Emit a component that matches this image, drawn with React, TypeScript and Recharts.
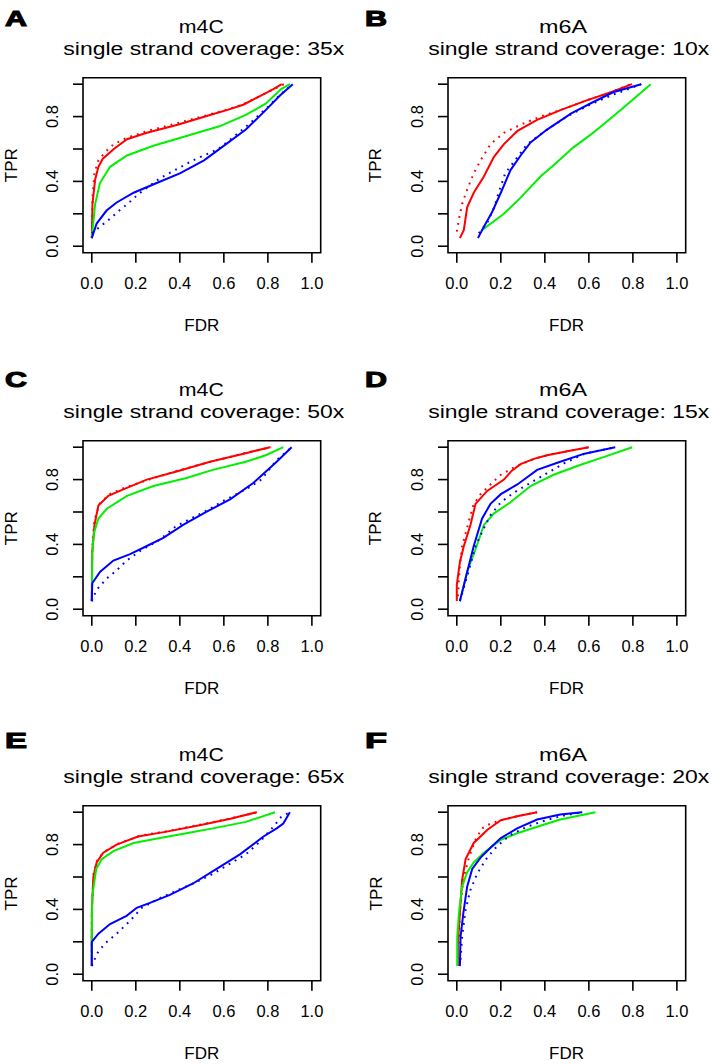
import React from 'react';
import { LineChart, Line, XAxis, YAxis, ReferenceArea } from 'recharts';

type Pt = [number, number];

// ---- labels ----
const panelLetters = ['A', 'B', 'C', 'D', 'E', 'F'];
const panelMods = ['m4C', 'm6A', 'm4C', 'm6A', 'm4C', 'm6A'];
const panelCoverage = ['35x', '10x', '50x', '15x', '65x', '20x'];
const xTicks = [0, 0.2, 0.4, 0.6, 0.8, 1.0];
const yTicks = [0, 0.2, 0.4, 0.6, 0.8, 1.0];
const yLabelled = [0, 0.4, 0.8];
const xLabel = 'FDR';
const yLabel = 'TPR';

// ---- data: [FDR, TPR] ----
const aRed: Pt[] = [[0, 0.05], [0.003, 0.26], [0.015, 0.41], [0.03, 0.49], [0.05, 0.54], [0.1, 0.6], [0.16, 0.66], [0.25, 0.7], [0.39, 0.75], [0.537, 0.81], [0.613, 0.84], [0.688, 0.873], [0.764, 0.926], [0.825, 0.97], [0.863, 1.0]];
const aRedDot: Pt[] = [[0, 0.05], [0.003, 0.3], [0.012, 0.45], [0.03, 0.53], [0.06, 0.58], [0.1, 0.63], [0.16, 0.67], [0.25, 0.71], [0.39, 0.76], [0.54, 0.815], [0.62, 0.845], [0.69, 0.878], [0.77, 0.93], [0.83, 0.972], [0.873, 1.0]];
const aGreen: Pt[] = [[0, 0.05], [0.015, 0.26], [0.037, 0.39], [0.083, 0.49], [0.16, 0.56], [0.28, 0.62], [0.43, 0.68], [0.58, 0.74], [0.7, 0.81], [0.79, 0.88], [0.86, 0.97], [0.9, 1.0]];
const aBlue: Pt[] = [[0, 0.05], [0.022, 0.14], [0.067, 0.22], [0.113, 0.27], [0.19, 0.33], [0.295, 0.39], [0.4, 0.45], [0.51, 0.53], [0.61, 0.63], [0.7, 0.72], [0.79, 0.84], [0.855, 0.93], [0.913, 1.0]];
const aBlueDot: Pt[] = [[0, 0.08], [0.037, 0.12], [0.083, 0.17], [0.125, 0.22], [0.17, 0.27], [0.21, 0.32], [0.31, 0.42], [0.46, 0.53], [0.575, 0.6], [0.64, 0.67], [0.72, 0.76], [0.8, 0.86], [0.86, 0.94], [0.913, 1.0]];

const bRed: Pt[] = [[0.014, 0.05], [0.032, 0.1], [0.047, 0.24], [0.077, 0.33], [0.123, 0.43], [0.168, 0.55], [0.214, 0.63], [0.274, 0.71], [0.365, 0.78], [0.471, 0.84], [0.59, 0.9], [0.7, 0.95], [0.796, 1.0]];
const bRedDot: Pt[] = [[0.0, 0.09], [0.01, 0.17], [0.024, 0.26], [0.047, 0.35], [0.077, 0.45], [0.108, 0.53], [0.153, 0.63], [0.214, 0.7], [0.29, 0.75], [0.38, 0.8], [0.47, 0.84], [0.59, 0.9], [0.7, 0.95], [0.79, 1.0]];
const bGreen: Pt[] = [[0.115, 0.1], [0.214, 0.2], [0.29, 0.3], [0.38, 0.43], [0.44, 0.5], [0.53, 0.61], [0.61, 0.69], [0.7, 0.79], [0.77, 0.87], [0.881, 1.0]];
const bBlue: Pt[] = [[0.096, 0.05], [0.123, 0.12], [0.16, 0.21], [0.2, 0.33], [0.244, 0.47], [0.29, 0.56], [0.335, 0.64], [0.41, 0.72], [0.52, 0.82], [0.62, 0.89], [0.71, 0.95], [0.838, 1.0]];
const bBlueDot: Pt[] = [[0.1, 0.08], [0.14, 0.15], [0.17, 0.24], [0.19, 0.33], [0.22, 0.45], [0.27, 0.54], [0.32, 0.63], [0.4, 0.71], [0.5, 0.8], [0.6, 0.87], [0.7, 0.93], [0.838, 1.0]];

const cRed: Pt[] = [[0, 0.05], [0.002, 0.35], [0.012, 0.52], [0.03, 0.64], [0.075, 0.7], [0.143, 0.74], [0.25, 0.8], [0.385, 0.85], [0.537, 0.91], [0.69, 0.96], [0.81, 1.0]];
const cRedDot: Pt[] = [[0, 0.05], [0.002, 0.38], [0.012, 0.55], [0.035, 0.65], [0.08, 0.71], [0.15, 0.75], [0.26, 0.8], [0.39, 0.855], [0.54, 0.91], [0.7, 0.965], [0.815, 1.0]];
const cGreen: Pt[] = [[0, 0.05], [0.002, 0.35], [0.01, 0.47], [0.03, 0.56], [0.068, 0.62], [0.16, 0.7], [0.28, 0.76], [0.43, 0.81], [0.55, 0.86], [0.7, 0.91], [0.79, 0.95], [0.87, 1.0]];
const cBlue: Pt[] = [[0, 0.05], [0.002, 0.16], [0.037, 0.23], [0.098, 0.3], [0.174, 0.34], [0.25, 0.39], [0.325, 0.44], [0.415, 0.52], [0.52, 0.6], [0.63, 0.68], [0.735, 0.78], [0.84, 0.91], [0.908, 1.0]];
const cBlueDot: Pt[] = [[0, 0.05], [0.022, 0.12], [0.068, 0.19], [0.113, 0.24], [0.158, 0.3], [0.22, 0.36], [0.31, 0.43], [0.38, 0.51], [0.537, 0.62], [0.6, 0.67], [0.7, 0.74], [0.77, 0.8], [0.84, 0.92], [0.908, 1.0]];

const dRed: Pt[] = [[0, 0.05], [0, 0.15], [0.014, 0.29], [0.032, 0.39], [0.062, 0.52], [0.085, 0.65], [0.138, 0.73], [0.214, 0.8], [0.25, 0.855], [0.29, 0.895], [0.35, 0.928], [0.41, 0.95], [0.52, 0.98], [0.6, 1.0]];
const dRedDot: Pt[] = [[0.005, 0.08], [0.014, 0.27], [0.024, 0.39], [0.04, 0.47], [0.062, 0.58], [0.077, 0.65], [0.108, 0.71], [0.153, 0.77], [0.2, 0.83], [0.26, 0.875], [0.3, 0.9], [0.36, 0.932], [0.41, 0.95], [0.52, 0.98], [0.6, 1.0]];
const dGreen: Pt[] = [[0.014, 0.05], [0.047, 0.23], [0.085, 0.37], [0.123, 0.52], [0.168, 0.59], [0.244, 0.66], [0.335, 0.76], [0.44, 0.83], [0.56, 0.89], [0.67, 0.94], [0.797, 1.0]];
const dBlue: Pt[] = [[0.014, 0.05], [0.047, 0.23], [0.077, 0.39], [0.115, 0.56], [0.153, 0.65], [0.2, 0.71], [0.275, 0.77], [0.365, 0.86], [0.47, 0.91], [0.58, 0.96], [0.72, 1.0]];
const dBlueDot: Pt[] = [[0.014, 0.05], [0.055, 0.24], [0.085, 0.39], [0.123, 0.5], [0.153, 0.58], [0.2, 0.66], [0.26, 0.72], [0.335, 0.78], [0.41, 0.84], [0.487, 0.9], [0.58, 0.96], [0.72, 1.0]];

const eRed: Pt[] = [[0, 0.05], [0, 0.38], [0.007, 0.6], [0.022, 0.69], [0.052, 0.75], [0.113, 0.8], [0.21, 0.85], [0.34, 0.88], [0.49, 0.92], [0.63, 0.96], [0.75, 1.0]];
const eRedDot: Pt[] = [[0, 0.05], [0, 0.4], [0.008, 0.62], [0.024, 0.7], [0.055, 0.755], [0.12, 0.805], [0.22, 0.855], [0.35, 0.885], [0.5, 0.925], [0.64, 0.965], [0.755, 1.0]];
const eGreen: Pt[] = [[0, 0.05], [0, 0.23], [0.002, 0.48], [0.02, 0.65], [0.045, 0.71], [0.098, 0.76], [0.19, 0.81], [0.31, 0.84], [0.43, 0.87], [0.55, 0.9], [0.7, 0.94], [0.832, 1.0]];
const eBlue: Pt[] = [[0, 0.05], [0, 0.2], [0.03, 0.25], [0.083, 0.31], [0.158, 0.36], [0.204, 0.41], [0.264, 0.44], [0.355, 0.49], [0.46, 0.56], [0.567, 0.65], [0.673, 0.74], [0.78, 0.85], [0.84, 0.9], [0.87, 0.93], [0.9, 1.0]];
const eBlueDot: Pt[] = [[0, 0.05], [0.025, 0.13], [0.06, 0.19], [0.113, 0.25], [0.174, 0.33], [0.227, 0.41], [0.31, 0.47], [0.46, 0.56], [0.537, 0.61], [0.613, 0.67], [0.7, 0.74], [0.765, 0.82], [0.825, 0.91], [0.86, 0.97], [0.9, 1.0]];

const fRed: Pt[] = [[0.005, 0.05], [0.005, 0.19], [0.014, 0.38], [0.024, 0.58], [0.04, 0.71], [0.077, 0.81], [0.138, 0.89], [0.2, 0.95], [0.274, 0.975], [0.365, 1.0]];
const fRedDot: Pt[] = [[0.009, 0.19], [0.017, 0.44], [0.032, 0.6], [0.055, 0.72], [0.085, 0.83], [0.115, 0.9], [0.153, 0.93], [0.2, 0.95], [0.274, 0.975], [0.365, 1.0]];
const fGreen: Pt[] = [[0.002, 0.05], [0.002, 0.23], [0.01, 0.38], [0.024, 0.54], [0.047, 0.63], [0.077, 0.69], [0.123, 0.75], [0.2, 0.83], [0.274, 0.87], [0.365, 0.91], [0.47, 0.955], [0.63, 1.0]];
const fBlue: Pt[] = [[0.014, 0.05], [0.017, 0.23], [0.03, 0.38], [0.047, 0.54], [0.07, 0.65], [0.108, 0.72], [0.153, 0.78], [0.2, 0.84], [0.274, 0.9], [0.365, 0.955], [0.47, 0.985], [0.57, 1.0]];
const fBlueDot: Pt[] = [[0.017, 0.09], [0.024, 0.23], [0.04, 0.4], [0.062, 0.52], [0.092, 0.62], [0.138, 0.72], [0.183, 0.79], [0.244, 0.86], [0.32, 0.91], [0.38, 0.94], [0.47, 0.975], [0.57, 1.0]];

const panelSeries: Pt[][][] = [
  [aRed, aRedDot, aGreen, aBlue, aBlueDot],
  [bRed, bRedDot, bGreen, bBlue, bBlueDot],
  [cRed, cRedDot, cGreen, cBlue, cBlueDot],
  [dRed, dRedDot, dGreen, dBlue, dBlueDot],
  [eRed, eRedDot, eGreen, eBlue, eBlueDot],
  [fRed, fRedDot, fGreen, fBlue, fBlueDot],
];
const seriesColors = ['#FF0000', '#FF0000', '#00F000', '#0000FF', '#0000FF'];
const seriesDotted = [false, true, false, false, true];

// ---- layout ----
const COL_X = [0, 364.7];
const ROW_Y = [0, 363, 728.3];
const CHART_W = 340;
const CHART_H = 340;
const PLOT_TOP = 77.7;
const PLOT_LEFT = 83;
const PLOT_W = 237.7;
const PLOT_H = 175;
const YAXIS_W = 60;
const XAXIS_H = 60;
const FONT = '"Liberation Sans", Arial, Helvetica, sans-serif';

const XTick = (props: any) => {
  const { x, y, payload } = props;
  return (
    <text x={x} y={y + 26.6} textAnchor="middle" fontSize={16.5} fontFamily={FONT} fill="#000">
      {Number(payload.value).toFixed(1)}
    </text>
  );
};

const YTick = (props: any) => {
  const { x, y, payload } = props;
  const v = Number(payload.value);
  if (!yLabelled.some((l) => Math.abs(l - v) < 1e-9)) return <g />;
  return (
    <text x={x} y={y} transform={`rotate(-90, ${x}, ${y})`} textAnchor="middle" fontSize={16.5} fontFamily={FONT} fill="#000">
      {v.toFixed(1)}
    </text>
  );
};

function Panel({ idx }: { idx: number }) {
  const col = idx % 2;
  const row = Math.floor(idx / 2);
  const series = panelSeries[idx];
  return (
    <div style={{ position: 'absolute', left: COL_X[col], top: ROW_Y[row], width: CHART_W, height: CHART_H }}>
      <LineChart
        width={CHART_W}
        height={CHART_H}
        margin={{ top: PLOT_TOP, left: PLOT_LEFT - YAXIS_W, right: CHART_W - PLOT_LEFT - PLOT_W, bottom: CHART_H - PLOT_TOP - PLOT_H - XAXIS_H }}
      >
        <XAxis
          type="number"
          dataKey="f"
          domain={[-0.04, 1.04]}
          ticks={xTicks}
          interval={0}
          allowDataOverflow
          axisLine={false}
          tickSize={10}
          tickMargin={0}
          tickLine={{ stroke: '#000', strokeWidth: 1.6 }}
          tick={<XTick />}
          height={XAXIS_H}
        />
        <YAxis
          type="number"
          dataKey="t"
          domain={[-0.04, 1.04]}
          ticks={yTicks}
          interval={0}
          allowDataOverflow
          axisLine={false}
          tickSize={10}
          tickMargin={14.5}
          tickLine={{ stroke: '#000', strokeWidth: 1.6 }}
          tick={<YTick />}
          width={YAXIS_W}
        />
        {series.map((pts, si) => (
          <Line
            key={si}
            data={pts.map(([f, t]) => ({ f, t }))}
            dataKey="t"
            type="linear"
            stroke={seriesColors[si]}
            strokeWidth={2}
            strokeDasharray={seriesDotted[si] ? '1.8 5.2' : undefined}
            dot={false}
            activeDot={false}
            isAnimationActive={false}
          />
        ))}
        <ReferenceArea x1={-0.04} x2={1.04} y1={-0.04} y2={1.04} fill="none" fillOpacity={0} stroke="#000" strokeWidth={1.6} ifOverflow="visible" />
      </LineChart>
    </div>
  );
}

function Texts() {
  const items: React.ReactNode[] = [];
  for (let i = 0; i < 6; i++) {
    const col = i % 2;
    const row = Math.floor(i / 2);
    const ox = COL_X[col];
    const oy = ROW_Y[row];
    const letterOy = [0, 361, 722][row];
    const plotCx = ox + PLOT_LEFT + PLOT_W / 2;
    items.push(
      <text key={`L${i}`} x={col === 0 ? 5 : 365} y={26 + letterOy} fontSize={22} fontWeight="bold" fontFamily={FONT}
        textLength={22} lengthAdjust="spacingAndGlyphs" stroke="#000" strokeWidth={1.1} fill="#000">
        {panelLetters[i]}
      </text>
    );
    items.push(
      <text key={`M${i}`} x={plotCx + (col === 0 ? -0.5 : -3.5)} y={32.5 + oy} textAnchor="middle" fontSize={17.5} fontFamily={FONT}
        textLength={col === 0 ? 45 : 48} lengthAdjust="spacingAndGlyphs" fill="#000">
        {panelMods[i]}
      </text>
    );
    items.push(
      <text key={`S${i}`} x={plotCx + (col === 0 ? 2 : 2.2)} y={55 + oy} textAnchor="middle" fontSize={17.5} fontFamily={FONT}
        textLength={281} lengthAdjust="spacingAndGlyphs" fill="#000">
        {`single strand coverage: ${panelCoverage[i]}`}
      </text>
    );
    items.push(
      <text key={`X${i}`} x={plotCx} y={330.7 + oy} textAnchor="middle" fontSize={17} fontFamily={FONT} fill="#000">
        {xLabel}
      </text>
    );
    const ty = oy + PLOT_TOP + PLOT_H / 2;
    const tx = ox + 16.8;
    items.push(
      <text key={`Y${i}`} x={tx} y={ty} transform={`rotate(-90, ${tx}, ${ty})`} textAnchor="middle" fontSize={17} fontFamily={FONT} fill="#000">
        {yLabel}
      </text>
    );
  }
  return (
    <svg width={715} height={1064} style={{ position: 'absolute', left: 0, top: 0, pointerEvents: 'none' }}>
      {items}
    </svg>
  );
}

export default function App() {
  return (
    <div style={{ position: 'absolute', left: 0, top: 0, width: 715, height: 1064, background: '#fff', overflow: 'hidden' }}>
      {[0, 1, 2, 3, 4, 5].map((i) => (
        <Panel key={i} idx={i} />
      ))}
      <Texts />
    </div>
  );
}
